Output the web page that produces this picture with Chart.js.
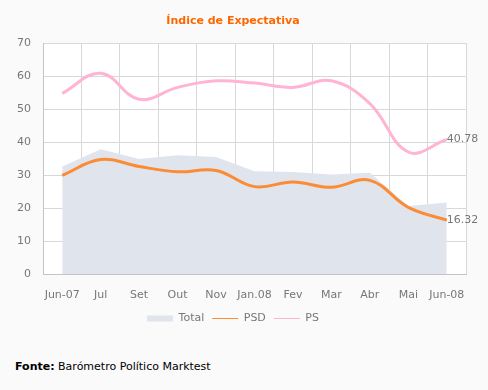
<!DOCTYPE html>
<html>
<head>
<meta charset="utf-8">
<script src="https://cdn.jsdelivr.net/npm/chart.js@4.4.1/dist/chart.umd.min.js"></script>
<style>
  html, body { margin: 0; padding: 0; background: #fafafa; }
  #wrap { position: relative; width: 488px; height: 390px; }
  #footer { position: absolute; left: 15px; top: 360px; font: 11px "DejaVu Sans", sans-serif; color: #000; }
</style>
</head>
<body>
<div id="wrap">
  <canvas id="chart" width="488" height="345" style="width:488px;height:345px"></canvas>
  <div id="footer"><b>Fonte:</b> Barómetro Político Marktest</div>
</div>
<script>
// data
const months = ['Jun-07', 'Jul', 'Set', 'Out', 'Nov', 'Jan.08', 'Fev', 'Mar', 'Abr', 'Mai', 'Jun-08'];
const totalValues = [32.6, 37.8, 34.9, 36.0, 35.5, 31.2, 30.9, 30.2, 30.7, 20.6, 21.7];
const psdValues   = [29.9, 34.7, 32.6, 31.0, 31.4, 26.5, 27.9, 26.3, 28.4, 20.2, 16.32];
const psValues    = [54.8, 60.9, 53.0, 56.6, 58.6, 57.9, 56.6, 58.6, 51.7, 37.0, 40.78];

const GRAY = '#777';
const FONT = '"DejaVu Sans", sans-serif';

// paint page + white plot area
const bgPlugin = {
  id: 'bg',
  beforeDraw(chart) {
    const { ctx, chartArea: a } = chart;
    ctx.save();
    ctx.fillStyle = '#fafafa';
    ctx.fillRect(0, 0, chart.width, chart.height);
    ctx.fillStyle = '#fff';
    ctx.fillRect(a.left, a.top, a.right - a.left, a.bottom - a.top);
    ctx.restore();
  }
};

// last value written after the end of each line
const endLabels = {
  id: 'endLabels',
  afterDatasetsDraw(chart) {
    const ctx = chart.ctx;
    ctx.save();
    ctx.font = '11px ' + FONT;
    ctx.fillStyle = GRAY;
    ctx.textAlign = 'left';
    ctx.textBaseline = 'middle';
    chart.data.datasets.forEach((ds, i) => {
      if (!ds.endLabel) return;
      const pts = chart.getDatasetMeta(i).data;
      const p = pts[pts.length - 1];
      ctx.fillText(ds.data[ds.data.length - 1].toFixed(2), p.x, p.y);
    });
    ctx.restore();
  }
};

new Chart(document.getElementById('chart'), {
  type: 'line',
  data: {
    labels: months,
    datasets: [
      {
        label: 'Total', data: totalValues, order: 3,
        borderWidth: 0, borderColor: 'rgba(0,0,0,0)', backgroundColor: '#e0e4ec',
        fill: 'origin', tension: 0, pointRadius: 0, legendColor: '#e0e4ec', legendStyle: 'rect'
      },
      {
        label: 'PSD', data: psdValues, order: 1,
        borderWidth: 3, borderColor: '#fb8c35', fill: false, tension: 0.4,
        pointRadius: 0, endLabel: true, legendColor: '#fb8c35', legendStyle: 'line'
      },
      {
        label: 'PS', data: psValues, order: 2,
        borderWidth: 3, borderColor: '#ffb4d4', fill: false, tension: 0.4,
        pointRadius: 0, endLabel: true, legendColor: '#ffb4d4', legendStyle: 'line'
      }
    ]
  },
  options: {
    responsive: false,
    animation: false,
    layout: { padding: { left: 0, right: 22, top: 0, bottom: 11 } },
    plugins: {
      title: {
        display: true,
        text: 'Índice de Expectativa',
        color: '#ff6600',
        font: { family: FONT, size: 11, weight: 'bold' },
        padding: { top: 15, bottom: 15 }
      },
      legend: {
        position: 'bottom',
        labels: {
          usePointStyle: true,
          pointStyleWidth: 26,
          boxHeight: 6,
          padding: 8,
          color: GRAY,
          font: { family: FONT, size: 11 },
          generateLabels: chart => chart.data.datasets.map((ds, i) => ({
            text: ds.label,
            fillStyle: ds.legendColor,
            strokeStyle: ds.legendColor,
            lineWidth: ds.legendStyle === 'rect' ? 0 : 1,
            pointStyle: ds.legendStyle,
            fontColor: GRAY,
            hidden: false,
            datasetIndex: i
          }))
        }
      },
      tooltip: { enabled: false }
    },
    scales: {
      x: {
        offset: true,
        grid: { offset: true, color: '#d8d8d8', drawTicks: false },
        border: { color: '#c4c4c4' },
        ticks: { color: GRAY, padding: 15, maxRotation: 0, autoSkip: false, font: { family: FONT, size: 11 } },
        afterFit: s => { s.height = 31; }
      },
      y: {
        min: 0, max: 70,
        grid: { color: '#d8d8d8', drawTicks: false },
        border: { color: '#c4c4c4' },
        ticks: { stepSize: 10, color: GRAY, padding: 12, font: { family: FONT, size: 11 } },
        afterFit: s => { s.width = 43; }
      }
    }
  },
  plugins: [bgPlugin, endLabels]
});
</script>
</body>
</html>
